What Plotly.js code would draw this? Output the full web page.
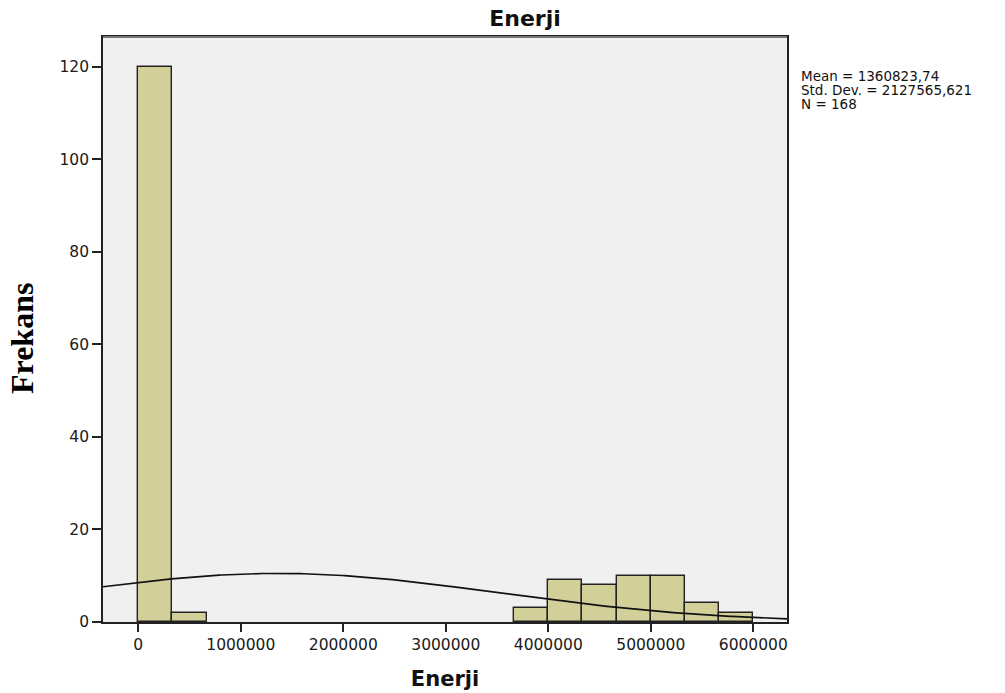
<!DOCTYPE html>
<html>
<head>
<meta charset="utf-8">
<script src="https://cdn.plot.ly/plotly-3.0.1.min.js"></script>
<style>
  html, body { margin: 0; padding: 0; background: #ffffff; }
  #chart { width: 1005px; height: 693px; }
</style>
</head>
<body>
<div id="chart"></div>
<script>
// Enerji histogram: left edge of each bin and its frequency
const binStarts = [0, 333333.333, 3666666.667, 4000000, 4333333.333, 4666666.667, 5000000, 5333333.333, 5666666.667];
const binCounts = [120, 2, 3, 9, 8, 10, 10, 4, 2];
const binWidth = 333333.333;

// Summary statistics shown beside the plot
const meanValue = 1360823.74;
const stdDev = 2127565.621;
const sampleSize = 168;
const statsLines = ['Mean = 1360823,74', 'Std. Dev. = 2127565,621', 'N = 168'];

// Axis ticks
const xTicks = [0, 1000000, 2000000, 3000000, 4000000, 5000000, 6000000];
const xTickText = ['0', '1000000', '2000000', '3000000', '4000000', '5000000', '6000000'];
const yTicks = [0, 20, 40, 60, 80, 100, 120];

const xRange = [-344400, 6328800];
const yRange = [0, 126.4];

// Normal density scaled to the histogram (N * bin width * pdf)
const curveX = [];
const curveY = [];
const steps = 300;
for (let i = 0; i <= steps; i++) {
  const x = xRange[0] + (xRange[1] - xRange[0]) * i / steps;
  const z = (x - meanValue) / stdDev;
  const pdf = Math.exp(-0.5 * z * z) / (stdDev * Math.sqrt(2 * Math.PI));
  curveX.push(x);
  curveY.push(sampleSize * binWidth * pdf);
}

const sans = 'DejaVu Sans, Arial, sans-serif';
const plotW = 684, plotH = 585, plotL = 103, plotT = 37;

const traces = [
  {
    type: 'bar',
    x: binStarts,
    y: binCounts,
    width: binWidth,
    offset: 0,
    marker: { color: '#d3cf98', line: { color: '#222222', width: 1.4 } },
    hoverinfo: 'x+y'
  },
  {
    type: 'scatter',
    mode: 'lines',
    x: curveX,
    y: curveY,
    line: { color: '#111111', width: 1.7 },
    hoverinfo: 'skip'
  }
];

// Stats block, one line per annotation so the spacing stays tight
const statAnnotations = statsLines.map((txt, i) => ({
  text: txt,
  xref: 'paper', yref: 'paper',
  x: (799 - plotL) / plotW, y: 1 - (76 + 14 * i - plotT) / plotH,
  xanchor: 'left', yanchor: 'middle',
  showarrow: false,
  font: { family: sans, size: 13.5, color: '#111111' }
}));

const layout = {
  width: 1005,
  height: 693,
  margin: { l: plotL, r: 1005 - plotL - plotW, t: plotT, b: 693 - plotT - plotH },
  paper_bgcolor: '#ffffff',
  plot_bgcolor: '#f0f0f0',
  showlegend: false,
  bargap: 0,
  title: {
    text: '<b>Enerji</b>',
    xref: 'container', yref: 'container',
    x: 525 / 1005, y: 1 - 18 / 693,
    xanchor: 'center', yanchor: 'middle',
    font: { family: sans, size: 22, color: '#111111' }
  },
  xaxis: {
    range: xRange,
    tickmode: 'array',
    tickvals: xTicks,
    ticktext: xTickText,
    ticks: 'outside',
    ticklen: 8,
    tickwidth: 1.5,
    tickcolor: '#222222',
    tickfont: { family: sans, size: 15.5, color: '#1a1a1a' },
    showgrid: false,
    zeroline: false,
    showline: true,
    linecolor: '#222222',
    linewidth: 1.5,
    mirror: true,
    title: {
      text: '<b>Enerji</b>',
      font: { family: sans, size: 21, color: '#111111' },
      standoff: 18
    }
  },
  yaxis: {
    range: yRange,
    tickmode: 'array',
    tickvals: yTicks,
    ticks: 'outside',
    ticklen: 9,
    tickwidth: 1.5,
    tickcolor: '#222222',
    tickfont: { family: sans, size: 15.5, color: '#1a1a1a' },
    showgrid: false,
    zeroline: false,
    showline: true,
    linecolor: '#222222',
    linewidth: 1.8,
    mirror: true
  },
  shapes: [
    {
      type: 'line', xref: 'paper', yref: 'paper',
      x0: 0, x1: 1, y0: 1, y1: 1,
      line: { color: '#777777', width: 2.2 }
    }
  ],
  annotations: [
    {
      text: '<b>Frekans</b>',
      xref: 'paper', yref: 'paper',
      x: (22 - plotL) / plotW, y: 1 - (339 - plotT) / plotH,
      xanchor: 'center', yanchor: 'middle',
      textangle: -90,
      showarrow: false,
      font: { family: 'Liberation Serif, Times New Roman, serif', size: 32, color: '#000000' }
    }
  ].concat(statAnnotations)
};

Plotly.newPlot('chart', traces, layout, { displayModeBar: false });
</script>
</body>
</html>
